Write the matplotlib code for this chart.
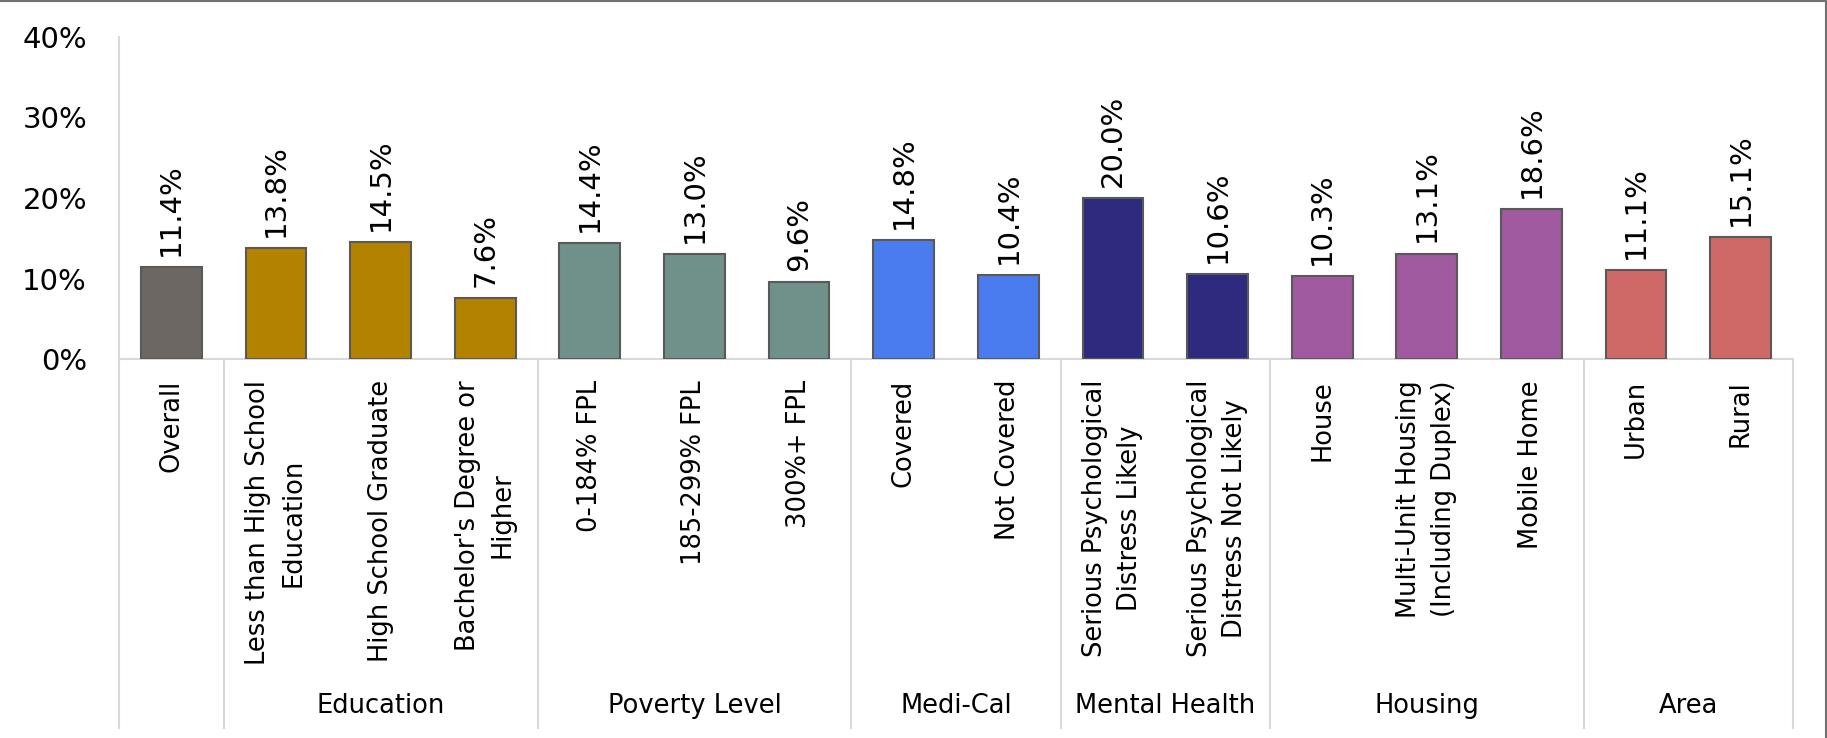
import matplotlib.pyplot as plt
from matplotlib.lines import Line2D

# data
categories = ["Overall", "Less than High School\nEducation", "High School Graduate",
              "Bachelor's Degree or\nHigher", "0-184% FPL", "185-299% FPL", "300%+ FPL",
              "Covered", "Not Covered", "Serious Psychological\nDistress Likely",
              "Serious Psychological\nDistress Not Likely", "House",
              "Multi-Unit Housing\n(Including Duplex)", "Mobile Home", "Urban", "Rural"]
values = [11.4, 13.8, 14.5, 7.6, 14.4, 13.0, 9.6, 14.8, 10.4, 20.0, 10.6,
          10.3, 13.1, 18.6, 11.1, 15.1]
group_names = ["", "Education", "Poverty Level", "Medi-Cal", "Mental Health", "Housing", "Area"]
group_sizes = [1, 3, 3, 2, 2, 3, 2]
group_colors = ["#6d6764", "#b38300", "#6f918a", "#4a7bef", "#2e2a7e", "#a05aa0", "#cf6967"]

# appearance
GRID = "#d9d9d9"
FONT = "DejaVu Sans"
plt.rcParams['font.family'] = FONT

colors = []
for c, n in zip(group_colors, group_sizes):
    colors += [c] * n

fig = plt.figure(figsize=(18.27, 7.38), dpi=100)
ax = fig.add_axes([119 / 1827, (738 - 359) / 738, (1793 - 119) / 1827, (359 - 37) / 738])

x = list(range(len(values)))
bars = ax.bar(x, [v / 100 for v in values], width=0.58, color=colors,
              edgecolor="#595959", linewidth=1.5, zorder=3)

for xi, v in zip(x, values):
    ax.annotate(f"{v:.1f}%", (xi, v / 100), xytext=(0, 8), textcoords="offset points",
                rotation=90, ha="center", va="bottom", fontsize=21)

ax.set_xlim(-0.5, len(values) - 0.5)
ax.set_ylim(0, 0.4)
ax.set_yticks([0, 0.1, 0.2, 0.3, 0.4])
ax.set_yticklabels(["0%", "10%", "20%", "30%", "40%"], fontsize=21)
ax.tick_params(axis="y", length=0, pad=23)
ax.tick_params(axis="x", length=0)
ax.set_xticks([])

for s in ["top", "right"]:
    ax.spines[s].set_visible(False)
for s in ["left", "bottom"]:
    ax.spines[s].set_color(GRID)
    ax.spines[s].set_linewidth(1.5)

# category labels and group separators below the axis
axh = 359 - 37
lab_y = -21 / axh
sep_bottom = -(728 - 359) / axh
grp_y = -(706 - 359) / axh
trans = ax.get_xaxis_transform()

for xi, name in zip(x, categories):
    ax.text(xi, lab_y, name, transform=trans, rotation=90, ha="center", va="top",
            fontsize=18.5, linespacing=1.45, multialignment="center")

start = -0.5
bounds = [start]
for n in group_sizes:
    bounds.append(bounds[-1] + n)
for b in bounds:
    ax.add_line(Line2D([b, b], [0, sep_bottom], transform=trans, color=GRID,
                       linewidth=1.5, clip_on=False))
for name, b0, b1 in zip(group_names, bounds[:-1], bounds[1:]):
    if name:
        ax.text((b0 + b1) / 2, grp_y, name, transform=trans, ha="center", va="center",
                fontsize=18.5)

# frame around the figure (top and right edges)
fig.add_artist(Line2D([0, 1], [0.999, 0.999], transform=fig.transFigure, color="#707070", linewidth=1.5))
fig.add_artist(Line2D([0.9992, 0.9992], [0, 1], transform=fig.transFigure, color="#707070", linewidth=1.5))

fig.savefig("out.png", dpi=100)
